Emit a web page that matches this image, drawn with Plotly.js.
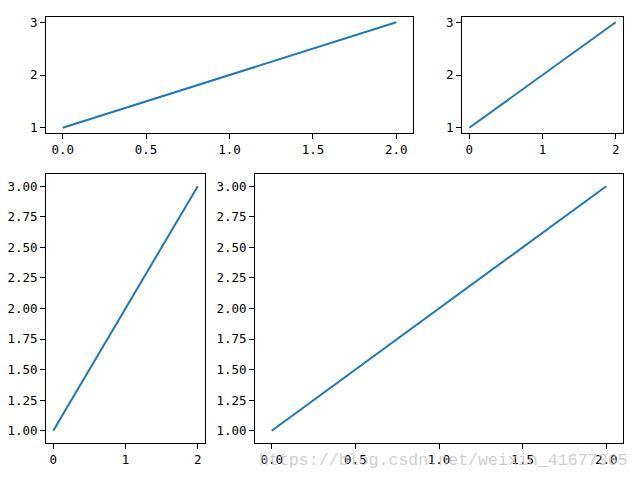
<!DOCTYPE html>
<html>
<head>
<meta charset="utf-8">
<script src="https://cdn.plot.ly/plotly-3.0.1.min.js"></script>
<style>html,body{margin:0;padding:0;background:#fff}#chart{width:640px;height:480px}</style>
</head>
<body>
<div id="chart"></div>
<script>
const xValues = [0, 1, 2];
const yValues = [1, 2, 3];
const watermark = "https://blog.csdn.net/weixin_41677365";

const lineColor = '#1f77b4';
const font = {family: '"DejaVu Sans Mono", "Liberation Mono", monospace', size: 12.5, color: '#000'};

function trace(xa, ya) {
  return {x: xValues, y: yValues, type: 'scatter', mode: 'lines',
          line: {color: lineColor, width: 2}, xaxis: xa, yaxis: ya,
          hoverinfo: 'skip', showlegend: false};
}

function ax(domain, anchor, range, dtick, fmt) {
  return {domain: domain, anchor: anchor, range: range, dtick: dtick, tick0: 0,
          tickformat: fmt, showline: true, mirror: true, linecolor: '#000', linewidth: 1,
          ticks: 'outside', ticklen: 5, tickwidth: 1, tickcolor: '#000',
          showgrid: false, zeroline: false, tickfont: font, fixedrange: true};
}

const xr = [-0.1, 2.1], yr = [0.9, 3.1];
const topY = [1 - 133/480, 1 - 17/480];
const botY = [1 - 443/480, 1 - 174/480];

const data = [trace('x', 'y'), trace('x2', 'y2'), trace('x3', 'y3'), trace('x4', 'y4')];

const layout = {
  width: 640, height: 480,
  margin: {l: 0, r: 0, t: 0, b: 0},
  paper_bgcolor: '#fff', plot_bgcolor: '#fff',
  font: font,
  showlegend: false,
  xaxis:  ax([46/640, 413/640], 'y',  xr, 0.5, '.1f'),
  yaxis:  ax(topY, 'x',  yr, 1, 'd'),
  xaxis2: ax([462/640, 623/640], 'y2', xr, 1, 'd'),
  yaxis2: ax(topY, 'x2', yr, 1, 'd'),
  xaxis3: ax([46/640, 205/640], 'y3', xr, 1, 'd'),
  yaxis3: ax(botY, 'x3', yr, 0.25, '.2f'),
  xaxis4: ax([255/640, 623/640], 'y4', xr, 0.5, '.1f'),
  yaxis4: ax(botY, 'x4', yr, 0.25, '.2f'),
  annotations: [{
    text: watermark, xref: 'paper', yref: 'paper', x: 629/640, y: 1 - 460/480,
    xanchor: 'right', yanchor: 'middle', showarrow: false,
    font: {family: '"Liberation Mono", "DejaVu Sans Mono", monospace', size: 16.6, color: 'rgba(190,190,190,0.75)'}
  }]
};

Plotly.newPlot('chart', data, layout, {staticPlot: true, displayModeBar: false});
</script>
</body>
</html>
